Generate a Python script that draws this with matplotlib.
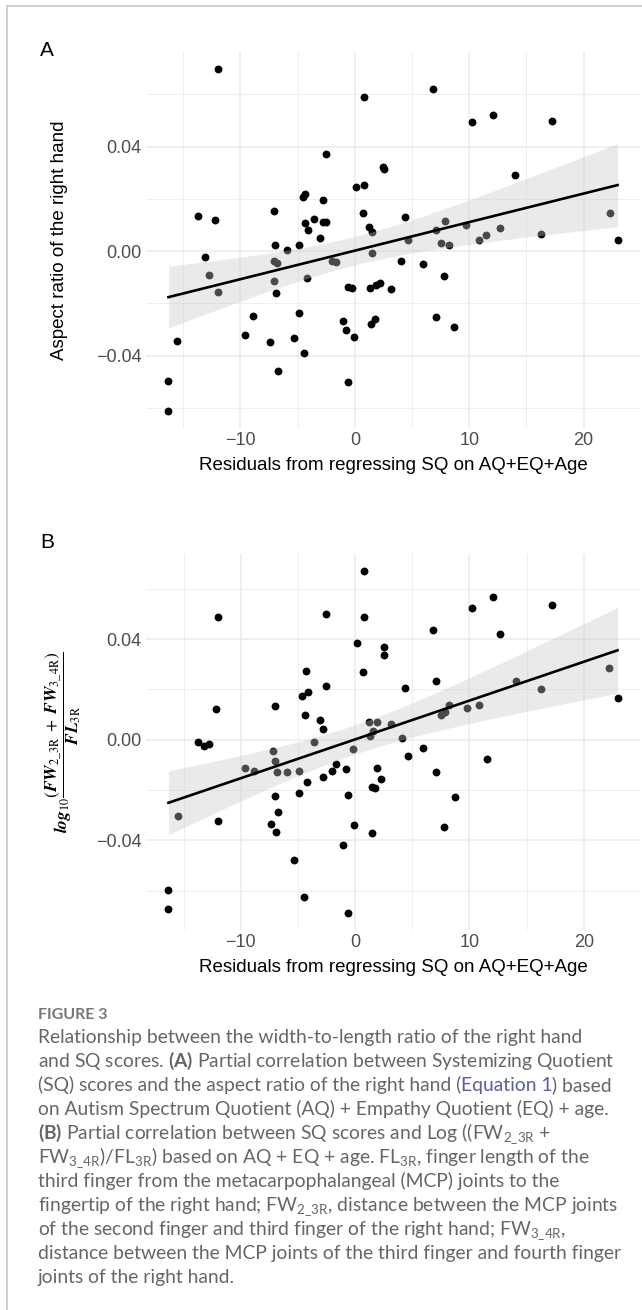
import matplotlib
matplotlib.use("Agg")
import matplotlib.pyplot as plt
import numpy as np
from matplotlib.lines import Line2D
from matplotlib.ticker import FixedLocator, FuncFormatter

W, H = 642, 1310

# panel A: residual SQ vs aspect ratio of the right hand
xa = [-12.0, 6.86, 0.79, 10.25, 12.04, 17.2, -2.54, 2.5, 2.54, 14.04,
      0.14, 0.79, -4.32, -4.57, -2.79, -7.04, 0.68, -13.75, -12.18, -4.36,
      -3.54, -2.75, -2.5, -4.11, -3.04, 1.21, 1.54, 4.39, 7.89, 7.07,
      9.75, 7.54, 8.21, 4.61, 10.82, 11.5, 12.68, 16.25, 22.29, 22.96,
      -7.0, -5.93, -4.89, -13.1, -12.79, -12.0, -7.1, -6.79, -7.04, -6.93,
      -4.21, -2.04, -1.68, 1.54, 4.07, 5.93, 7.79, -0.61, -0.25, 1.29,
      1.89, 2.18, 3.14, -8.86, -4.86, 1.75, -1.04, 7.1, -0.75, -0.04,
      1.43, 8.71, -9.61, -7.39, -5.36, -4.43, -6.71, -0.61, -15.5, -16.29,
      -16.29]
ya = [0.0696, 0.0618, 0.0591, 0.0493, 0.0522, 0.0498, 0.0373, 0.0322, 0.0315, 0.0292,
      0.0246, 0.0252, 0.0220, 0.0206, 0.0197, 0.0153, 0.0146, 0.0134, 0.0120, 0.0106,
      0.0121, 0.0111, 0.0111, 0.0079, 0.0052, 0.0093, 0.0074, 0.0129, 0.0115, 0.0080,
      0.0101, 0.0031, 0.0023, 0.0043, 0.0042, 0.0061, 0.0087, 0.0064, 0.0144, 0.0041,
      0.0023, 0.0006, 0.0024, -0.0022, -0.0093, -0.0157, -0.0036, -0.0045, -0.0116, -0.0162,
      -0.0101, -0.0038, -0.0041, -0.0008, -0.0036, -0.0048, -0.0094, -0.0136, -0.0140, -0.0141,
      -0.0130, -0.0121, -0.0143, -0.0250, -0.0238, -0.0258, -0.0267, -0.0252, -0.0300, -0.0329,
      -0.0278, -0.0292, -0.0322, -0.0346, -0.0332, -0.0391, -0.0460, -0.0500, -0.0343, -0.0498,
      -0.0611]

# panel B: residual SQ vs log10((FW2_3R + FW3_4R) / FL3R)
xb = [-11.96, 0.75, 0.79, -2.54, 10.25, 12.04, 17.2, 6.86, 12.68, 0.14,
      2.5, 2.54, -4.32, 0.68, -2.5, 4.39, 7.07, 14.04, 16.25, 22.25,
      22.96, -4.61, -4.11, -7.04, -12.18, -4.36, -3.04, -2.79, 1.21, 1.93,
      1.54, 1.29, 3.14, 7.54, 7.86, 8.21, 9.75, 10.82, 4.07, -13.75,
      -13.18, -12.79, -3.57, -7.14, -7.0, -0.21, 5.93, 4.61, 11.5, -9.61,
      -8.86, -6.79, -5.93, -4.89, -1.64, -2.04, -0.79, 1.96, 7.07, -4.21,
      -2.79, 2.25, 1.46, 1.75, -4.86, -7.04, -0.64, 8.71, -6.75, -15.5,
      -12.0, -7.39, -6.93, -0.07, 7.79, 1.46, -1.04, -5.36, -4.43, -0.61,
      -16.32, -16.32]
yb = [0.0486, 0.0486, 0.0670, 0.0498, 0.0523, 0.0568, 0.0534, 0.0434, 0.0421, 0.0385,
      0.0367, 0.0336, 0.0273, 0.0268, 0.0215, 0.0204, 0.0232, 0.0232, 0.0203, 0.0285,
      0.0166, 0.0175, 0.0189, 0.0135, 0.0121, 0.0098, 0.0079, 0.0044, 0.0069, 0.0069,
      0.0036, 0.0016, 0.0062, 0.0099, 0.0109, 0.0138, 0.0126, 0.0136, 0.0005, -0.0011,
      -0.0026, -0.0017, -0.0011, -0.0046, -0.0085, -0.0037, -0.0034, -0.0066, -0.0079, -0.0111,
      -0.0126, -0.0130, -0.0128, -0.0126, -0.0095, -0.0125, -0.0118, -0.0114, -0.0130, -0.0170,
      -0.0148, -0.0158, -0.0189, -0.0191, -0.0212, -0.0223, -0.0219, -0.0229, -0.0287, -0.0305,
      -0.0325, -0.0334, -0.0366, -0.0338, -0.0347, -0.0370, -0.0420, -0.0477, -0.0625, -0.0689,
      -0.0597, -0.0672]

x_major = [-10, 0, 10, 20]
x_minor = [-15, -5, 5, 15]
y_major = [-0.04, 0.00, 0.04]
y_minor = [-0.06, -0.02, 0.02, 0.06]

xlabel = "Residuals from regressing SQ on AQ+EQ+Age"
ylabel_a = "Aspect ratio of the right hand"
ylabel_b = (r"$\mathbfit{log}_{10}\dfrac{\left(\mathbfit{FW}_{\mathrm{2\_3R}}\;+\;"
            r"\mathbfit{FW}_{\mathrm{3\_4R}}\right)}{\mathbfit{FL}_{\mathrm{3R}}}$")

caption_head = "FIGURE 3"
caption_lines = [
    "Relationship between the width-to-length ratio of the right hand",
    r"and SQ scores. $\mathbf{(A)}$ Partial correlation between Systemizing Quotient",
    None,
    "on Autism Spectrum Quotient (AQ) + Empathy Quotient (EQ) + age.",
    r"$\mathbf{(B)}$ Partial correlation between SQ scores and Log ((FW$_{\mathrm{2\_3R}}$ +",
    r"FW$_{\mathrm{3\_4R}}$)/FL$_{\mathrm{3R}}$) based on AQ + EQ + age. FL$_{\mathrm{3R}}$, finger length of the",
    "third finger from the metacarpophalangeal (MCP) joints to the",
    r"fingertip of the right hand; FW$_{\mathrm{2\_3R}}$, distance between the MCP joints",
    r"of the second finger and third finger of the right hand; FW$_{\mathrm{3\_4R}}$,",
    "distance between the MCP joints of the third finger and fourth finger",
    "joints of the right hand.",
]
caption_line3 = ["(SQ) scores and the aspect ratio of the right hand (", "Equation 1", ") based"]

plt.rcParams["font.family"] = ["Liberation Sans", "DejaVu Sans"]
plt.rcParams["mathtext.fontset"] = "custom"
plt.rcParams["mathtext.rm"] = "Lato"
plt.rcParams["mathtext.bf"] = "Lato:bold"
plt.rcParams["mathtext.it"] = "Lato:italic"


def fit_band(x, y, t=1.99):
    x = np.asarray(x)
    y = np.asarray(y)
    n = len(x)
    slope, intercept = np.polyfit(x, y, 1)
    grid = np.linspace(x.min(), x.max(), 80)
    pred = intercept + slope * grid
    resid = y - (intercept + slope * x)
    s = np.sqrt(np.sum(resid ** 2) / (n - 2))
    se = s * np.sqrt(1 / n + (grid - x.mean()) ** 2 / np.sum((x - x.mean()) ** 2))
    return grid, pred, pred - t * se, pred + t * se


def panel(fig, top, bottom, x, y):
    left, right = 146, 640
    ax = fig.add_axes([left / W, 1 - bottom / H, (right - left) / W, (bottom - top) / H])
    ax.scatter(x, y, s=32, c="black", linewidths=0, zorder=2)
    grid, pred, lo, hi = fit_band(x, y)
    ax.fill_between(grid, lo, hi, color="#c8c8c8", alpha=0.37, linewidth=0, zorder=3)
    ax.plot(grid, pred, color="black", lw=1.9, zorder=4)
    ax.margins(0.05)
    ax.xaxis.set_major_locator(FixedLocator(x_major))
    ax.xaxis.set_minor_locator(FixedLocator(x_minor))
    ax.yaxis.set_major_locator(FixedLocator(y_major))
    ax.yaxis.set_minor_locator(FixedLocator(y_minor))
    ax.yaxis.set_major_formatter(FuncFormatter(lambda v, p: f"{v:.2f}".replace("-", "\u2212")))
    ax.grid(which="major", color="#ebebeb", lw=1.1)
    ax.grid(which="minor", color="#ebebeb", lw=0.6)
    ax.set_axisbelow(True)
    for sp in ax.spines.values():
        sp.set_visible(False)
    ax.tick_params(which="both", length=0, labelsize=13, labelcolor="#4d4d4d", pad=3)
    ax.set_xlabel(xlabel, fontsize=13.5, labelpad=6)
    return ax


fig = plt.figure(figsize=(W / 100, H / 100), dpi=100)

ax_a = panel(fig, 52, 428, xa, ya)
ax_b = panel(fig, 554, 930, xb, yb)

fig.text(60 / W, 1 - 240 / H, ylabel_a, rotation=90, ha="center", va="center", fontsize=13.5)
fig.text(63 / W, 1 - 742 / H, ylabel_b, rotation=90, ha="center", va="center",
         fontsize=12.5, math_fontfamily="stix")

fig.text(47 / W, 1 - 51 / H, "A", fontsize=15, ha="center", va="center")
fig.text(47 / W, 1 - 543 / H, "B", fontsize=15, ha="center", va="center")

# caption
cap_x = 37.7 / W
cap_color = "#666666"
cap_size = 13.85
fig.text(cap_x, 1 - 1019.3 / H, caption_head, fontsize=11.5, weight="bold",
         color="#777777", family="Lato", va="baseline")

bg = fig.add_axes([0, 0, 1, 1])
bg.axis("off")
bg.set_zorder(-1)

for i, line in enumerate(caption_lines):
    yy = 1 - (1043.3 + 23.94 * i) / H
    if line is not None:
        fig.text(cap_x, yy, line, fontsize=cap_size, color=cap_color, family="Lato", va="baseline")
    else:
        t1 = fig.text(cap_x, yy, caption_line3[0], fontsize=cap_size, color=cap_color,
                      family="Lato", va="baseline")
        t2 = bg.annotate(caption_line3[1], xy=(1, 0), xycoords=t1, va="bottom", ha="left",
                         fontsize=cap_size, color="#5a5ca8", family="Lato")
        bg.annotate(caption_line3[2], xy=(1, 0), xycoords=t2, va="bottom", ha="left",
                    fontsize=cap_size, color=cap_color, family="Lato")

# page frame on the top and left edges
fig.add_artist(Line2D([7 / W, 7 / W], [0, 1 - 6 / H], transform=fig.transFigure,
                      color="#c8c8c8", lw=1.2))
fig.add_artist(Line2D([7 / W, 1], [1 - 6 / H, 1 - 6 / H], transform=fig.transFigure,
                      color="#c8c8c8", lw=1.2))

fig.savefig("out.png", dpi=100)
